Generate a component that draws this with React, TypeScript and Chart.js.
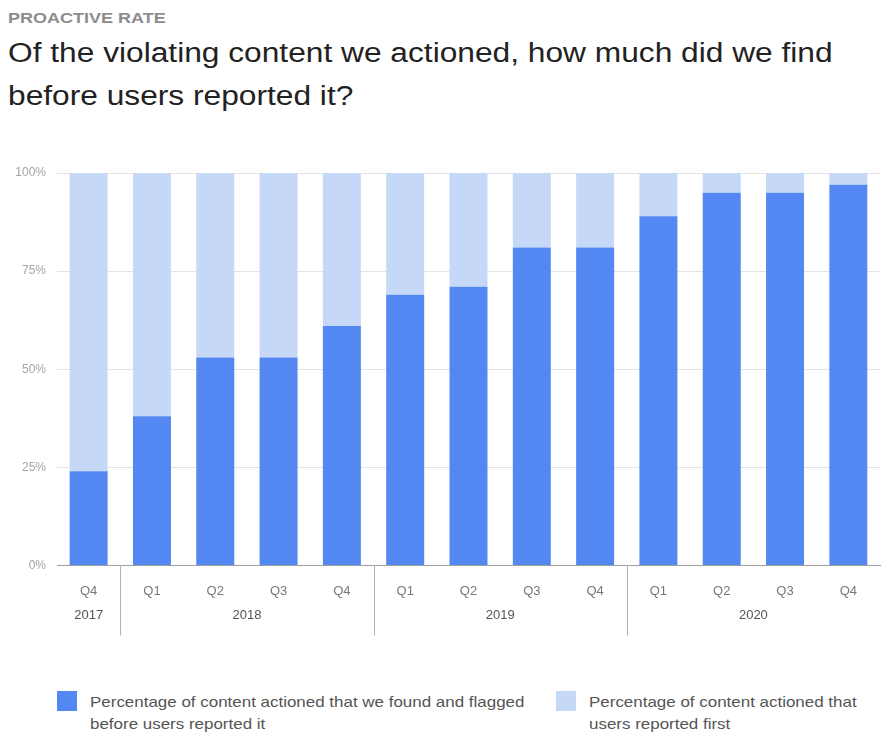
import React, { useEffect, useRef } from "react";
import { Chart, registerables } from "chart.js";

Chart.register(...registerables);

const quarterLabels = ["Q4", "Q1", "Q2", "Q3", "Q4", "Q1", "Q2", "Q3", "Q4", "Q1", "Q2", "Q3", "Q4"];
const yearLabels = ["2017", "2018", "2019", "2020"];
const yearStartIndex = [0, 1, 5, 9];
const yearEndIndex = [0, 4, 8, 12];
const foundFirst = [24, 38, 53, 53, 61, 69, 71, 81, 81, 89, 95, 95, 97];
const reportedFirst = [76, 62, 47, 47, 39, 31, 29, 19, 19, 11, 5, 5, 3];
const yTicks = [0, 25, 50, 75, 100];

const seriesNames = [
  ["Percentage of content actioned that we found and flagged", "before users reported it"],
  ["Percentage of content actioned that", "users reported first"],
];

const DARK = "#5388f3";
const LIGHT = "#c6d8f8";
const FONT = "'Liberation Sans', Arial, sans-serif";

const yearPlugin = {
  id: "yearGroups",
  afterDraw(chart: any) {
    const x = chart.scales.x;
    const area = chart.chartArea;
    const ctx = chart.ctx;
    ctx.save();
    ctx.font = `13px ${FONT}`;
    ctx.fillStyle = "#555555";
    ctx.textAlign = "center";
    ctx.textBaseline = "middle";
    ctx.strokeStyle = "#b0b0b0";
    ctx.lineWidth = 1;
    yearLabels.forEach((lab, i) => {
      const cx = (x.getPixelForValue(yearStartIndex[i]) + x.getPixelForValue(yearEndIndex[i])) / 2;
      ctx.fillText(lab, cx, area.bottom + 50);
      if (i > 0) {
        const sx = Math.round((x.getPixelForValue(yearStartIndex[i] - 1) + x.getPixelForValue(yearStartIndex[i])) / 2) + 0.5;
        ctx.beginPath();
        ctx.moveTo(sx, area.bottom);
        ctx.lineTo(sx, area.bottom + 70);
        ctx.stroke();
      }
    });
    ctx.restore();
  },
};

export default function App() {
  const ref = useRef<HTMLCanvasElement | null>(null);

  useEffect(() => {
    if (!ref.current) return;
    const chart = new Chart(ref.current, {
      type: "bar",
      data: {
        labels: quarterLabels,
        datasets: [
          {
            label: seriesNames[0].join(" "),
            data: foundFirst,
            backgroundColor: DARK,
            categoryPercentage: 0.6,
            barPercentage: 1,
          },
          {
            label: seriesNames[1].join(" "),
            data: reportedFirst,
            backgroundColor: LIGHT,
            categoryPercentage: 0.6,
            barPercentage: 1,
          },
        ],
      },
      options: {
        animation: false,
        responsive: false,
        maintainAspectRatio: false,
        layout: { padding: { top: 13, right: 5, left: 0, bottom: 0 } },
        plugins: { legend: { display: false }, tooltip: { enabled: false }, title: { display: false } },
        scales: {
          x: {
            stacked: true,
            grid: { display: false, drawTicks: false },
            border: { display: true, color: "#9e9e9e" },
            ticks: { color: "#777777", font: { family: FONT, size: 13 }, padding: 18, maxRotation: 0, autoSkip: false },
            afterFit: (s: any) => { s.height = 84.5; s.paddingLeft = 0; s.paddingRight = 0; },
          },
          y: {
            stacked: true,
            min: 0,
            max: 100,
            afterBuildTicks: (s: any) => { s.ticks = yTicks.map((v) => ({ value: v })); },
            grid: { color: "#e3e3e3", drawTicks: false },
            border: { display: false },
            ticks: {
              color: "#a5a5a5",
              font: { family: FONT, size: 12 },
              padding: 11,
              callback: (v: any) => `${v}%`,
            },
            afterFit: (s: any) => { s.width = 57; s.paddingTop = 0; s.paddingBottom = 0; },
          },
        },
      },
      plugins: [yearPlugin],
    });
    return () => chart.destroy();
  }, []);

  const stretch = (s: number): React.CSSProperties => ({ transform: `scaleX(${s})`, transformOrigin: "0 0", whiteSpace: "nowrap" });

  return (
    <div style={{ position: "absolute", left: 0, top: 0, width: 885, height: 734, background: "#ffffff", fontFamily: FONT, overflow: "hidden" }}>
      <div style={{ position: "absolute", left: 8, top: 9, fontSize: 15, fontWeight: "bold", color: "#8d8d8d", ...stretch(1.2) }}>
        PROACTIVE RATE
      </div>
      <div style={{ position: "absolute", left: 8, top: 32, fontSize: 27, lineHeight: "43px", color: "#222222", ...stretch(1.174) }}>
        Of the violating content we actioned, how much did we find
        <br />
        before users reported it?
      </div>
      <canvas ref={ref} width={885} height={490} style={{ position: "absolute", left: 0, top: 160, width: 885, height: 490 }} />
      {[0, 1].map((i) => (
        <div key={i}>
          <div style={{ position: "absolute", left: i === 0 ? 57 : 556, top: 691, width: 20, height: 20, background: i === 0 ? DARK : LIGHT }} />
          <div style={{ position: "absolute", left: i === 0 ? 90 : 589, top: 691, fontSize: 15, lineHeight: "22px", color: "#555555", ...stretch(1.13) }}>
            {seriesNames[i][0]}
            <br />
            {seriesNames[i][1]}
          </div>
        </div>
      ))}
    </div>
  );
}
